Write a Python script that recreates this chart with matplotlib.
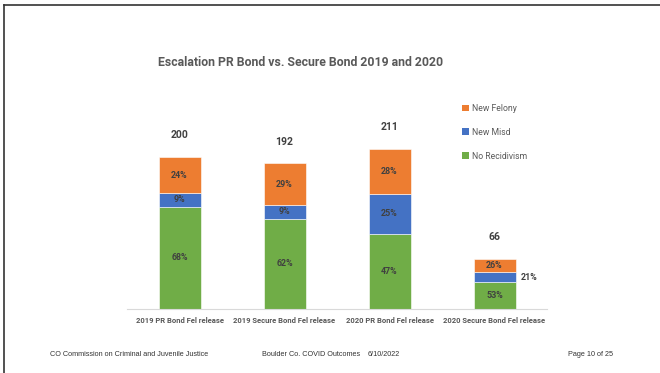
import matplotlib
matplotlib.use("Agg")
import matplotlib.pyplot as plt
from matplotlib.lines import Line2D
from matplotlib.patches import Patch
import numpy as np

plt.rcParams['font.family'] = ['Roboto', 'DejaVu Sans']

categories = ["2019 PR Bond Fel release", "2019 Secure Bond Fel release",
              "2020 PR Bond Fel release", "2020 Secure Bond Fel release"]
totals = [200, 192, 211, 66]
pct_no_recid = [68, 62, 47, 53]
pct_new_misd = [9, 9, 25, 21]
pct_new_felony = [24, 29, 28, 26]

series_names = ["No Recidivism", "New Misd", "New Felony"]
series_colors = ["#70AD47", "#4472C4", "#ED7D31"]

title = "Escalation PR Bond vs. Secure Bond 2019 and 2020"
footer_left = "CO Commission on Criminal and Juvenile Justice"
footer_mid = "Boulder Co. COVID Outcomes"
footer_date = "6/10/2022"
footer_page = "Page 10 of 25"

W, H, DPI = 660, 373, 100
fig = plt.figure(figsize=(W / DPI, H / DPI), dpi=DPI)
ax = fig.add_axes([127 / W, (H - 309) / H, 420 / W, 190 / H])

x = np.arange(len(categories))
pcts = np.array([pct_no_recid, pct_new_misd, pct_new_felony], dtype=float)
tot = np.array(totals, dtype=float)
# segment counts: each bar's total split by its percentage shares
shares = pcts / pcts.sum(axis=0)
seg = shares * tot

bottom = np.zeros(len(categories))
bar_w = 0.4
text_col = "#404040"
for i, (name, col) in enumerate(zip(series_names, series_colors)):
    bars = ax.bar(x, seg[i], bar_w, bottom=bottom, color=col, label=name,
                  edgecolor="white", linewidth=0.4)
    for j, b in enumerate(bars):
        cy = bottom[j] + seg[i][j] / 2
        lbl = f"{int(pcts[i][j])}%"
        if j == 3 and i == 1:
            ax.text(x[j] + bar_w / 2 + 0.05, cy, lbl, ha="left", va="center",
                    fontsize=6.4, fontweight="bold", color=text_col)
        else:
            ax.text(x[j], cy, lbl, ha="center", va="center",
                    fontsize=6.4, fontweight="bold", color=text_col)
    bottom += seg[i]

for j, t in enumerate(totals):
    ax.annotate(str(t), (x[j], t), xytext=(0, 15.5), textcoords="offset points",
                ha="center", va="center", fontsize=7.5, fontweight="bold",
                color=text_col)

ax.set_xlim(-0.5, len(categories) - 0.5)
ax.set_ylim(0, 250)
for s in ["top", "right", "left"]:
    ax.spines[s].set_visible(False)
ax.spines["bottom"].set_color("#D9D9D9")
ax.spines["bottom"].set_linewidth(0.8)
ax.set_yticks([])
ax.set_xticks(x)
ax.set_xticklabels(categories, fontsize=5.5, fontweight="bold", color="#595959")
ax.tick_params(axis="x", length=0, pad=6)

fig.text(301 / W, 1 - 62 / H, title, ha="center", va="center", fontsize=8.85,
         fontweight="bold", color="#595959")

handles = [Patch(facecolor=c, edgecolor="none") for c in series_colors[::-1]]
fig.legend(handles, series_names[::-1], loc="upper left",
           bbox_to_anchor=(462 / W, 1 - 104 / H), frameon=False, fontsize=6.2,
           handlelength=0.85, handleheight=0.85, handletextpad=0.3,
           labelspacing=1.72, labelcolor="#595959", borderpad=0, borderaxespad=0)

fy = 1 - 354 / H
ff = dict(fontsize=5.2, color="#333333", va="center", ha="left",
          family=["Liberation Sans", "DejaVu Sans"])
fig.text(50 / W, fy, footer_left, **ff)
fig.text(262 / W, fy, footer_mid, **ff)
fig.text(368 / W, fy, footer_date, **ff)
fig.text(568 / W, fy, footer_page, **ff)

# page frame edges
fig.add_artist(Line2D([3.5 / W, 1], [1 - 4.5 / H, 1 - 4.5 / H],
                      transform=fig.transFigure, color="#333333", lw=1.2))
fig.add_artist(Line2D([3.5 / W, 3.5 / W], [0, 1 - 4.5 / H],
                      transform=fig.transFigure, color="#333333", lw=1.2))

fig.savefig("out.png", dpi=DPI)
